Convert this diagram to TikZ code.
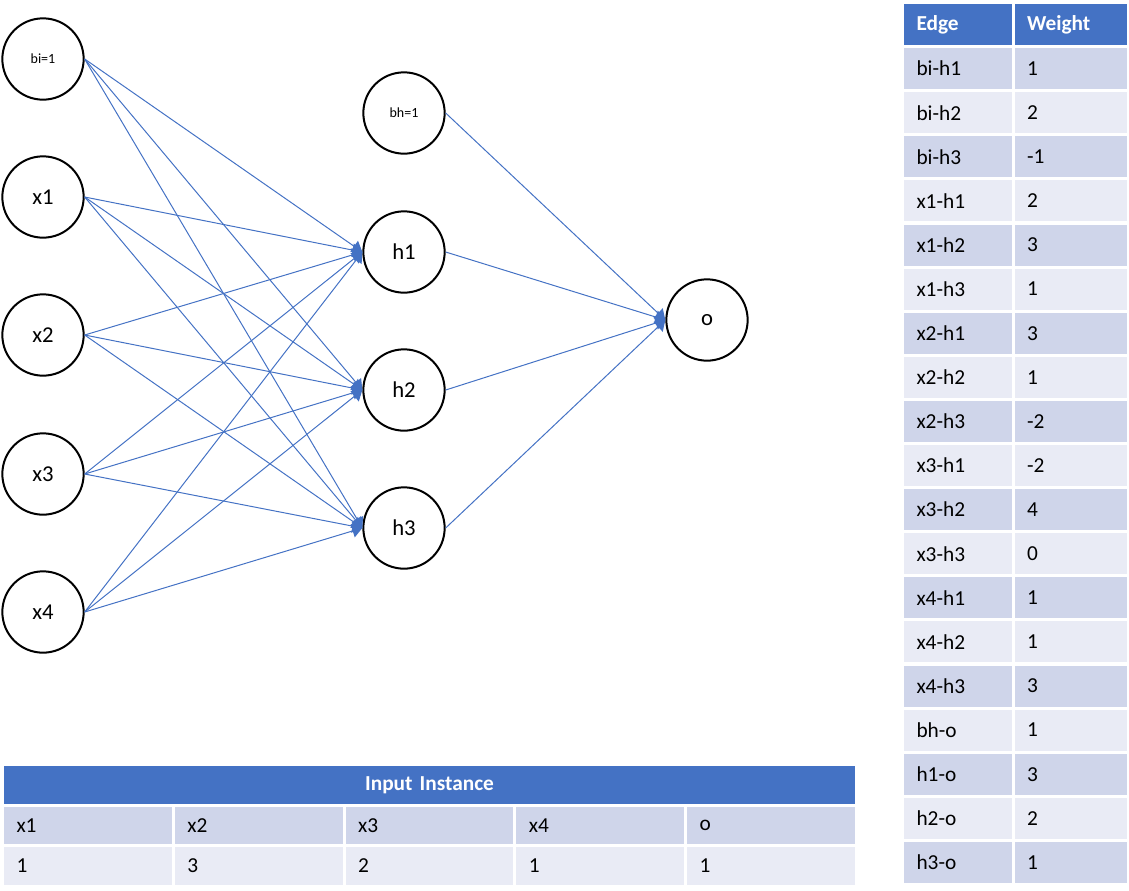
\documentclass[tikz,border=0pt]{standalone}
\usepackage{fontspec}
\setmainfont{Carlito}
\usetikzlibrary{arrows.meta}

\definecolor{accent}{HTML}{4472C4}
\definecolor{rowdark}{HTML}{CFD5EA}
\definecolor{rowlight}{HTML}{E9EBF5}

\tikzstyle{neuron}=[draw,line width=1.5pt,circle,minimum size=61pt,inner sep=0pt,font=\fontsize{17}{20}\selectfont]
\tikzstyle{bias}=[neuron,font=\fontsize{10.5}{12}\selectfont]
\tikzstyle{edge}=[draw,accent,line width=0.75pt,-{Triangle[length=7.5pt,width=10pt]}]
\tikzstyle{cell}=[draw=white,line width=2.25pt,anchor=north west,inner xsep=10.5pt,inner ysep=0pt,align=left,font=\fontsize{16}{19}\selectfont]
\tikzstyle{headcell}=[cell,fill=accent,text=white,font=\fontsize{16}{19}\selectfont\bfseries]

\begin{document}
\begin{tikzpicture}[x=0.75pt, y=-0.75pt]
    \useasboundingbox (0,0) rectangle (1129,890);
    % First we draw the neurons
    \foreach \pos/\name/\kind/\txt in {{(43,59)/bi/bias/bi=1}, {(43,197)/x1/neuron/x1}, {(43,335)/x2/neuron/x2}, {(43,474)/x3/neuron/x3}, {(43,612)/x4/neuron/x4}, {(404,113)/bh/bias/bh=1}, {(404,252)/h1/neuron/h1}, {(404,390)/h2/neuron/h2}, {(404,528)/h3/neuron/h3}, {(707,320)/o/neuron/o}}
        \node[\kind] (\name) at \pos {\txt};
    % Connect neurons with weighted edges
    \foreach \source/ \dest in {bi/h1,bi/h2,bi/h3,x1/h1,x1/h2,x1/h3,x2/h1,x2/h2,x2/h3,x3/h1,x3/h2,x3/h3,x4/h1,x4/h2,x4/h3,bh/o,h1/o,h2/o,h3/o}
        \path[edge] (\source.east) -- (\dest.west);

    % Table of edge weights
    \node[headcell,text width=61.9pt,minimum height=33pt] (e0) at (901,1) {Edge};
    \node[headcell,text width=65.6pt,minimum height=33pt] (w0) at (1011.5,1) {Weight};
    \foreach \i/\ename/\weight in {1/bi-h1/1,2/bi-h2/2,3/bi-h3/-1,4/x1-h1/2,5/x1-h2/3,6/x1-h3/1,7/x2-h1/3,8/x2-h2/1,9/x2-h3/-2,10/x3-h1/-2,11/x3-h2/4,12/x3-h3/0,13/x4-h1/1,14/x4-h2/1,15/x4-h3/3,16/bh-o/1,17/h1-o/3,18/h2-o/2,19/h3-o/1}
    {
        \ifodd\i \def\rowcol{rowdark}\else\def\rowcol{rowlight}\fi
        \pgfmathsetmacro\rowtop{1+44.1*\i}
        \node[cell,fill=\rowcol,text width=61.9pt,minimum height=33pt] (e\i) at (901,\rowtop) {\ename};
        \node[cell,fill=\rowcol,text width=65.6pt,minimum height=33pt] (w\i) at (1011.5,\rowtop) {\weight};
    }

    % Table of the input instance
    \node[headcell,align=center,text width=619.5pt,minimum height=30.4pt] (inst) at (1,763) {Input Instance};
    \foreach \j/\var/\val in {0/x1/1,1/x2/3,2/x3/2,3/x4/1,4/o/1}
    {
        \node[cell,fill=rowdark,text width=107.1pt,minimum height=30.4pt] (in\j) at (1+170.8*\j,803.5) {\var};
        \node[cell,fill=rowlight,text width=107.1pt,minimum height=30.4pt] (val\j) at (1+170.8*\j,844) {\val};
    }
\end{tikzpicture}
\end{document}
